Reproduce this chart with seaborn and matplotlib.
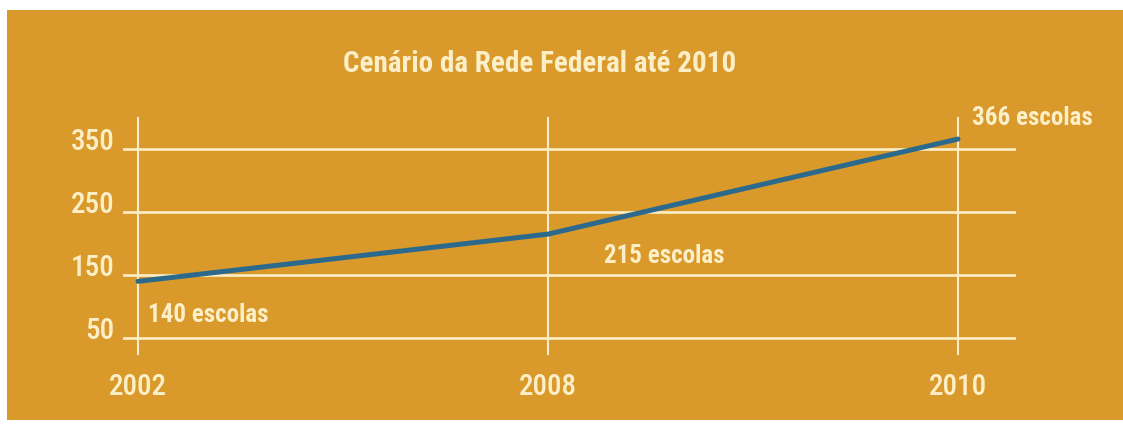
import matplotlib
matplotlib.use("Agg")
import matplotlib.pyplot as plt
from matplotlib import font_manager
from matplotlib.patches import Rectangle
from matplotlib.transforms import ScaledTranslation
import seaborn as sns
import pandas as pd

# ---- data ----
years = ["2002", "2008", "2010"]
schools = [140, 215, 366]
labels = ["140 escolas", "215 escolas", "366 escolas"]
yticks = [50, 150, 250, 350]
title = "Cenário da Rede Federal até 2010"

sns.set_theme(style="white")
names = {f.name for f in font_manager.fontManager.ttflist}
fam = "Liberation Sans"
for cand in ["Roboto Condensed", "Archivo Narrow", "Liberation Sans Narrow"]:
    if cand in names:
        fam = cand
        break
narrow = fam != "Liberation Sans"
plt.rcParams["font.family"] = [fam, "DejaVu Sans"]

ORANGE = "#D9992B"
CREAM = "#FCEFC8"
BLUE = "#2B6A8C"

fig = plt.figure(figsize=(11.23, 4.30), dpi=100, facecolor="white")
fig.patches.append(Rectangle((7 / 1123, 1 - 420 / 430), (1123 - 7) / 1123, 410 / 430,
                             transform=fig.transFigure, facecolor=ORANGE,
                             edgecolor="none", zorder=-10))

ax = fig.add_axes([123 / 1123, 1 - 355 / 430, 893 / 1123, 238 / 430])
ax.set_facecolor("none")
ax.set_zorder(1)

df = pd.DataFrame({"year": years, "schools": schools})
sns.lineplot(data=df, x="year", y="schools", ax=ax, color=BLUE, lw=3.6,
             sort=False, zorder=5)

ax.set_xlim(-0.0366, 2.1415)
ax.set_ylim(23, 401)
ax.set_yticks(yticks)
ax.set_yticklabels([str(v) for v in yticks])
ax.set_xlabel("")
ax.set_ylabel("")

for v in yticks:
    ax.axhline(v, color=CREAM, lw=1.9, zorder=2)
for i in range(len(years)):
    ax.axvline(i, color=CREAM, lw=1.5, zorder=2)

for s in ax.spines.values():
    s.set_visible(False)

tick_size = 21 if narrow else 19
ann_size = 18 if narrow else 15
title_size = 21 if narrow else 18

ax.tick_params(axis="both", length=0, colors=CREAM)
ax.tick_params(axis="y", pad=6, labelsize=tick_size)
ax.tick_params(axis="x", pad=13, labelsize=tick_size)
for lab in ax.get_yticklabels():
    lab.set_transform(lab.get_transform() + ScaledTranslation(0, 10 / 100, fig.dpi_scale_trans))
for lab in ax.get_yticklabels() + ax.get_xticklabels():
    lab.set_fontweight("medium")

offsets = [(7, -24), (40, -16), (10, 15)]
for i, (val, txt) in enumerate(zip(schools, labels)):
    ax.annotate(txt, xy=(i, val), xytext=offsets[i], textcoords="offset points",
                ha="left", va="center", color=CREAM, fontsize=ann_size,
                fontweight="bold", zorder=6)

fig.text(540 / 1123, 1 - 64 / 430, title, ha="center", va="center",
         color=CREAM, fontsize=title_size, fontweight="bold")

fig.savefig("out.png", dpi=100, facecolor="white")
